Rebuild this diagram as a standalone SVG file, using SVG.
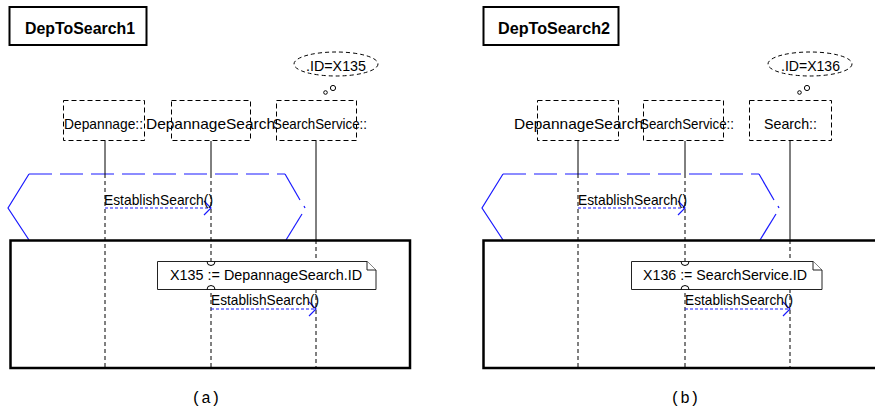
<svg xmlns="http://www.w3.org/2000/svg" width="875" height="412" viewBox="0 0 875 412">
<style>
text{font-family:"Liberation Sans",Arial,sans-serif;font-size:14.5px;fill:#000}
.title{font-weight:bold;font-size:16px}
.cap{font-family:"Liberation Mono","Courier New",monospace;font-size:16px}
.frame{fill:none;stroke:#000;stroke-width:2}
.big{fill:none;stroke:#000;stroke-width:2.5}
.obj{fill:none;stroke:#000;stroke-width:1;stroke-dasharray:5 3}
.thought{fill:none;stroke:#000;stroke-width:1;stroke-dasharray:4 3}
.bub{fill:#fff;stroke:#000;stroke-width:1}
.life{stroke:#000;stroke-width:1;fill:none}
.lifed{stroke:#000;stroke-width:1;stroke-dasharray:4 3;fill:none}
.msg{stroke:#1a1aff;stroke-width:1.2;stroke-dasharray:3 2;fill:none}
.head{stroke:#1a1aff;stroke-width:1.2;fill:none}
.hex{stroke:#1a1aff;stroke-width:1.2;fill:none}
.hexd{stroke:#1a1aff;stroke-width:1.2;fill:none;stroke-dasharray:23 8}
.note{fill:#fff;stroke:#222;stroke-width:1}
</style>

<!-- Panel (a) -->
<g id="panel-a">
  <g id="a-connectors">
    <polyline class="hex" points="29,174 8,208 29,240"/>
    <line class="hexd" x1="29" y1="174" x2="285" y2="174"/>
    <line class="hex" x1="285" y1="174" x2="300" y2="200"/>
    <line class="hex" x1="304" y1="206" x2="305" y2="208"/>
    <line class="hex" x1="302" y1="214" x2="286" y2="240"/>
    <line class="life" x1="105" y1="141" x2="105" y2="174"/>
    <line class="lifed" x1="105" y1="174" x2="105" y2="368"/>
    <line class="life" x1="211" y1="141" x2="211" y2="174"/>
    <line class="lifed" x1="211" y1="174" x2="211" y2="368"/>
    <line class="life" x1="316" y1="141" x2="316" y2="240"/>
    <line class="lifed" x1="316" y1="240" x2="316" y2="368"/>
    <line class="msg" x1="105" y1="208" x2="211" y2="208"/>
    <polyline class="head" points="204,201 211,208 204,215"/>
    <line class="msg" x1="211" y1="309" x2="316" y2="309"/>
    <polyline class="head" points="309,302 316,309 309,316"/>
  </g>
  <g id="a-title">
    <rect class="frame" x="9.5" y="7" width="137" height="38"/>
    <text class="title" x="25" y="34" textLength="110" lengthAdjust="spacingAndGlyphs">DepToSearch1</text>
  </g>
  <g id="a-thought">
    <ellipse class="thought" cx="336" cy="64" rx="42" ry="12"/>
    <text x="306" y="71" textLength="60" lengthAdjust="spacingAndGlyphs">.ID=X135</text>
    <circle class="bub" cx="333" cy="88" r="2.6"/>
    <circle class="bub" cx="325.5" cy="92.5" r="1.8"/>
  </g>
  <g id="a-depannage">
    <rect class="obj" x="63.5" y="100.5" width="81" height="40"/>
    <text x="64" y="129" textLength="79" lengthAdjust="spacingAndGlyphs">Depannage::</text>
  </g>
  <g id="a-depannagesearch">
    <rect class="obj" x="171.5" y="100.5" width="79" height="40"/>
    <text x="146" y="129" textLength="129" lengthAdjust="spacingAndGlyphs">DepannageSearch</text>
  </g>
  <g id="a-searchservice">
    <rect class="obj" x="276.5" y="100.5" width="80" height="40"/>
    <text x="273" y="129" textLength="94" lengthAdjust="spacingAndGlyphs">SearchService::</text>
  </g>
  <g id="a-frame">
    <rect class="big" x="10.5" y="240.5" width="399.5" height="127.5"/>
  </g>
  <g id="a-note">
    <path class="note" d="M157.5,261.5 H367 L376,270 V289.5 H157.5 Z"/>
    <path class="note" d="M367,261.5 V270 H376" fill="none"/>
    <path class="life" d="M207,261.5 A4,4 0 0 0 215,261.5"/>
    <path class="life" d="M207,289.5 A4,4 0 0 1 215,289.5"/>
    <text x="170" y="280" textLength="192" lengthAdjust="spacingAndGlyphs">X135 := DepannageSearch.ID</text>
  </g>
  <g id="a-labels">
    <text x="104" y="205" textLength="109" lengthAdjust="spacingAndGlyphs">EstablishSearch()</text>
    <text x="211" y="305" textLength="108" lengthAdjust="spacingAndGlyphs">EstablishSearch()</text>
  </g>
  <text class="cap" x="206" y="403" text-anchor="middle">(a)</text>
</g>

<!-- Panel (b) -->
<g id="panel-b">
  <g id="b-connectors">
    <polyline class="hex" points="503,174 482,208 503,240"/>
    <line class="hexd" x1="503" y1="174" x2="759" y2="174"/>
    <line class="hex" x1="759" y1="174" x2="774" y2="200"/>
    <line class="hex" x1="778" y1="206" x2="779" y2="208"/>
    <line class="hex" x1="776" y1="214" x2="760" y2="240"/>
    <line class="life" x1="578" y1="141" x2="578" y2="174"/>
    <line class="lifed" x1="578" y1="174" x2="578" y2="368"/>
    <line class="life" x1="685" y1="141" x2="685" y2="174"/>
    <line class="lifed" x1="685" y1="174" x2="685" y2="368"/>
    <line class="life" x1="790" y1="141" x2="790" y2="240"/>
    <line class="lifed" x1="790" y1="240" x2="790" y2="368"/>
    <line class="msg" x1="578" y1="208" x2="685" y2="208"/>
    <polyline class="head" points="678,201 685,208 678,215"/>
    <line class="msg" x1="685" y1="309" x2="790" y2="309"/>
    <polyline class="head" points="783,302 790,309 783,316"/>
  </g>
  <g id="b-title">
    <rect class="frame" x="483.5" y="7" width="135" height="38"/>
    <text class="title" x="498" y="34" textLength="112" lengthAdjust="spacingAndGlyphs">DepToSearch2</text>
  </g>
  <g id="b-thought">
    <ellipse class="thought" cx="810" cy="64" rx="42" ry="12"/>
    <text x="781" y="71" textLength="59" lengthAdjust="spacingAndGlyphs">.ID=X136</text>
    <circle class="bub" cx="807" cy="88" r="2.6"/>
    <circle class="bub" cx="799.5" cy="92.5" r="1.8"/>
  </g>
  <g id="b-depannagesearch">
    <rect class="obj" x="537.5" y="100.5" width="81" height="40"/>
    <text x="514" y="129" textLength="129" lengthAdjust="spacingAndGlyphs">DepannageSearch</text>
  </g>
  <g id="b-searchservice">
    <rect class="obj" x="643.5" y="100.5" width="80" height="40"/>
    <text x="640" y="129" textLength="94" lengthAdjust="spacingAndGlyphs">SearchService::</text>
  </g>
  <g id="b-search">
    <rect class="obj" x="749.5" y="100.5" width="82" height="40"/>
    <text x="764" y="129" textLength="53" lengthAdjust="spacingAndGlyphs">Search::</text>
  </g>
  <g id="b-frame">
    <path class="big" d="M880,240.5 H483.5 V368 H880"/>
  </g>
  <g id="b-note">
    <path class="note" d="M631.5,261.5 H813 L822,270 V289.5 H631.5 Z"/>
    <path class="note" d="M813,261.5 V270 H822" fill="none"/>
    <path class="life" d="M681,261.5 A4,4 0 0 0 689,261.5"/>
    <path class="life" d="M681,289.5 A4,4 0 0 1 689,289.5"/>
    <text x="643" y="280" textLength="164" lengthAdjust="spacingAndGlyphs">X136 := SearchService.ID</text>
  </g>
  <g id="b-labels">
    <text x="578" y="205" textLength="109" lengthAdjust="spacingAndGlyphs">EstablishSearch()</text>
    <text x="685" y="305" textLength="108" lengthAdjust="spacingAndGlyphs">EstablishSearch()</text>
  </g>
  <text class="cap" x="685" y="403" text-anchor="middle">(b)</text>
</g>
</svg>
